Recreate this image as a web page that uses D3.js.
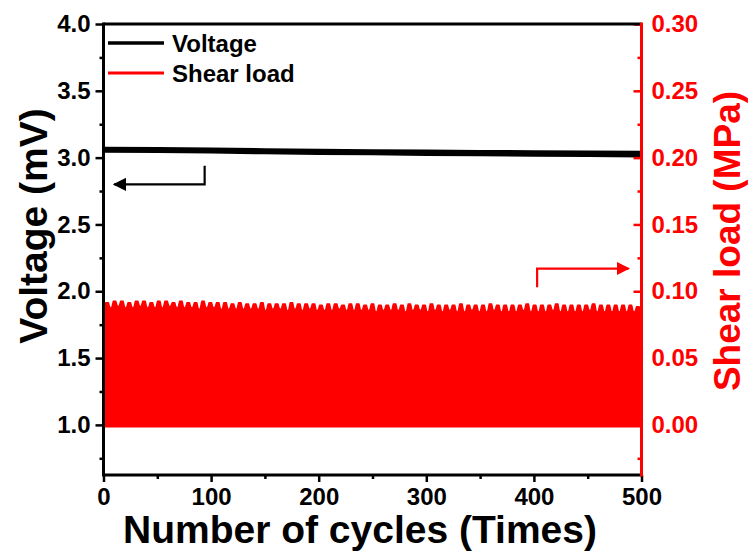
<!DOCTYPE html>
<html>
<head>
    <meta charset="utf-8">
    <title></title>
    <script src="https://cdn.jsdelivr.net/npm/d3@7"></script>
    <style>
        * { margin: 0; padding: 0; }
        body { background: #fff; }
        svg text { font-family: "Liberation Sans", Arial, sans-serif; font-weight: bold; }
    </style>
</head>
<body>
    <div id="chart"></div>
    <script>
        // voltage band (mV), read every 50 cycles
        var voltCycles = [0, 50, 100, 150, 200, 250, 300, 350, 400, 450, 500];
        var voltUpper = [3.082, 3.079, 3.075, 3.071, 3.066, 3.063, 3.060, 3.058, 3.056, 3.053, 3.051];
        var voltLower = [3.037, 3.034, 3.030, 3.025, 3.020, 3.017, 3.013, 3.010, 3.007, 3.004, 3.001];

        // shear load envelope (MPa): top of each visible bump and the dip after it
        var shearPeaks = [
            0.092, 0.093, 0.093, 0.092, 0.093, 0.093, 0.092, 0.093, 0.093, 0.092,
            0.093, 0.092, 0.092, 0.093, 0.092, 0.092, 0.092, 0.091, 0.092, 0.091,
            0.091, 0.092, 0.091, 0.091, 0.091, 0.092, 0.091, 0.091, 0.091, 0.090,
            0.091, 0.091, 0.090, 0.091, 0.091, 0.090, 0.091, 0.090, 0.090, 0.091,
            0.090, 0.091, 0.090, 0.090, 0.091, 0.090, 0.090, 0.090, 0.091, 0.090,
            0.090, 0.090, 0.091, 0.090, 0.090, 0.090, 0.090, 0.091, 0.090, 0.090,
            0.090, 0.091, 0.090, 0.090, 0.090, 0.090, 0.091, 0.090, 0.090, 0.090,
            0.090, 0.090, 0.089];
        var shearDips = [
            0.088, 0.089, 0.088, 0.088, 0.089, 0.088, 0.088, 0.088, 0.089, 0.088,
            0.088, 0.088, 0.087, 0.088, 0.088, 0.087, 0.087, 0.087, 0.087, 0.087,
            0.087, 0.086, 0.087, 0.087, 0.086, 0.087, 0.086, 0.087, 0.086, 0.086,
            0.086, 0.087, 0.086, 0.086, 0.086, 0.086, 0.085, 0.086, 0.086, 0.086,
            0.085, 0.086, 0.086, 0.085, 0.086, 0.085, 0.086, 0.085, 0.085, 0.086,
            0.085, 0.085, 0.086, 0.085, 0.085, 0.085, 0.086, 0.085, 0.085, 0.085,
            0.086, 0.085, 0.085, 0.085, 0.085, 0.086, 0.085, 0.085, 0.085, 0.085,
            0.085, 0.085, 0.085];
        var shearMin = -0.002;

        var xTicks = [0, 100, 200, 300, 400, 500];
        var voltTicks = [1.0, 1.5, 2.0, 2.5, 3.0, 3.5, 4.0];
        var shearTicks = [0.00, 0.05, 0.10, 0.15, 0.20, 0.25, 0.30];

        // arrows: [cycle, value] points, last point is the tip
        var voltArrow = [[94, 2.94], [94, 2.80], [10, 2.80]];
        var shearArrow = [[403, 0.103], [403, 0.117], [488, 0.117]];

        var W = 748, H = 551;
        var mLeft = 103.5, mRight = 641.5, mTop = 24, mBottom = 475;

        var svg = d3.select("#chart").append("svg")
            .attr("width", W).attr("height", H);

        var x = d3.scaleLinear().domain([0, 500]).range([mLeft, mRight]);
        var yV = d3.scaleLinear().domain([0.625, 4.0]).range([mBottom, mTop]);
        var yS = d3.scaleLinear().domain([-0.0375, 0.30]).range([mBottom, mTop]);

        // shear load fill
        var w = 500 / shearPeaks.length;
        var env = [[0, shearMin], [0, shearDips[0]]];
        shearPeaks.forEach(function (p, i) {
            env.push([i * w + 0.3 * w, p]);
            env.push([i * w + 0.7 * w, p]);
            env.push([(i + 1) * w, shearDips[i]]);
        });
        svg.append("path")
            .datum(env)
            .attr("fill", "#ff0000")
            .attr("d", d3.area()
                .x(function (d) { return x(d[0]); })
                .y0(yS(shearMin))
                .y1(function (d) { return yS(d[1]); })
                .curve(d3.curveMonotoneX));

        // voltage band
        svg.append("path")
            .datum(voltCycles)
            .attr("fill", "#000")
            .attr("d", d3.area()
                .x(function (d) { return x(d); })
                .y0(function (d, i) { return yV(voltLower[i]); })
                .y1(function (d, i) { return yV(voltUpper[i]); }));

        // axes
        var gx = svg.append("g")
            .attr("transform", "translate(0," + mBottom + ")")
            .call(d3.axisBottom(x).tickValues(xTicks).tickSize(7).tickPadding(6).tickFormat(d3.format("d")));
        gx.selectAll(".tick line").attr("stroke-width", 2.5);
        svg.append("g")
            .attr("transform", "translate(0," + mBottom + ")")
            .call(d3.axisBottom(x).tickValues([50, 150, 250, 350, 450]).tickSize(4).tickFormat(""))
            .selectAll("line").attr("stroke-width", 2.5);

        var gl = svg.append("g")
            .attr("transform", "translate(" + mLeft + ",0)")
            .call(d3.axisLeft(yV).tickValues(voltTicks).tickSize(8).tickPadding(5).tickFormat(d3.format(".1f")));
        gl.selectAll(".tick line").attr("stroke-width", 2.5);
        svg.append("g")
            .attr("transform", "translate(" + mLeft + ",0)")
            .call(d3.axisLeft(yV).tickValues([0.75, 1.25, 1.75, 2.25, 2.75, 3.25, 3.75]).tickSize(4).tickFormat(""))
            .selectAll("line").attr("stroke-width", 2.5);

        var gr = svg.append("g")
            .attr("transform", "translate(" + mRight + ",0)")
            .call(d3.axisRight(yS).tickValues(shearTicks).tickSizeInner(-8).tickPadding(10).tickFormat(d3.format(".2f")));
        gr.selectAll(".tick line").attr("stroke", "#ff0000").attr("stroke-width", 2.5);
        gr.selectAll(".tick text").attr("fill", "#ff0000");
        svg.append("g")
            .attr("transform", "translate(" + mRight + ",0)")
            .call(d3.axisRight(yS).tickValues([-0.025, 0.025, 0.075, 0.125, 0.175, 0.225, 0.275]).tickSizeInner(-4).tickFormat(""))
            .selectAll("line").attr("stroke", "#ff0000").attr("stroke-width", 2.5);

        svg.selectAll(".domain").remove();
        svg.selectAll(".tick text").attr("font-size", 24).attr("font-family", "Liberation Sans").attr("font-weight", "bold");

        // frame
        svg.append("line").attr("x1", mLeft).attr("x2", mRight).attr("y1", mTop).attr("y2", mTop)
            .attr("stroke", "#000").attr("stroke-width", 3);
        svg.append("line").attr("x1", mLeft).attr("x2", mRight).attr("y1", mBottom).attr("y2", mBottom)
            .attr("stroke", "#000").attr("stroke-width", 3);
        svg.append("line").attr("x1", mLeft).attr("x2", mLeft).attr("y1", mTop - 1.5).attr("y2", mBottom + 1.5)
            .attr("stroke", "#000").attr("stroke-width", 3);
        svg.append("line").attr("x1", mRight).attr("x2", mRight).attr("y1", mTop - 1.5).attr("y2", mBottom + 1.5)
            .attr("stroke", "#ff0000").attr("stroke-width", 3);

        // arrows
        var defs = svg.append("defs");
        [["ahBlack", "#000"], ["ahRed", "#ff0000"]].forEach(function (m) {
            defs.append("marker").attr("id", m[0])
                .attr("viewBox", "0 0 10 10").attr("refX", 9).attr("refY", 5)
                .attr("markerWidth", 6).attr("markerHeight", 6).attr("orient", "auto")
                .attr("markerUnits", "strokeWidth")
                .append("path").attr("d", "M0,0 L10,5 L0,10 Z").attr("fill", m[1]);
        });
        var arrowLine = d3.line()
            .x(function (d) { return x(d[0]); });
        svg.append("path")
            .attr("d", arrowLine.y(function (d) { return yV(d[1]); })(voltArrow))
            .attr("fill", "none").attr("stroke", "#000").attr("stroke-width", 2.2)
            .attr("marker-end", "url(#ahBlack)");
        svg.append("path")
            .attr("d", arrowLine.y(function (d) { return yS(d[1]); })(shearArrow))
            .attr("fill", "none").attr("stroke", "#ff0000").attr("stroke-width", 2.2)
            .attr("marker-end", "url(#ahRed)");

        // legend
        var legend = [["Voltage", "#000", 3.5], ["Shear load", "#ff0000", 3]];
        legend.forEach(function (l, i) {
            var ly = 43 + i * 30;
            svg.append("line").attr("x1", 108).attr("x2", 164).attr("y1", ly).attr("y2", ly)
                .attr("stroke", l[1]).attr("stroke-width", l[2]);
            svg.append("text").attr("x", 172).attr("y", ly + 8.5)
                .attr("font-size", 24).text(l[0]);
        });

        // titles
        svg.append("text")
            .attr("x", 360).attr("y", 543)
            .attr("text-anchor", "middle").attr("font-size", 39)
            .text("Number of cycles (Times)");
        svg.append("text")
            .attr("transform", "translate(47," + 226 + ") rotate(-90)")
            .attr("text-anchor", "middle").attr("font-size", 39)
            .text("Voltage (mV)");
        svg.append("text")
            .attr("transform", "translate(740," + 241 + ") rotate(-90)")
            .attr("text-anchor", "middle").attr("font-size", 37).attr("fill", "#ff0000")
            .text("Shear load (MPa)");
    </script>
</body>
</html>
